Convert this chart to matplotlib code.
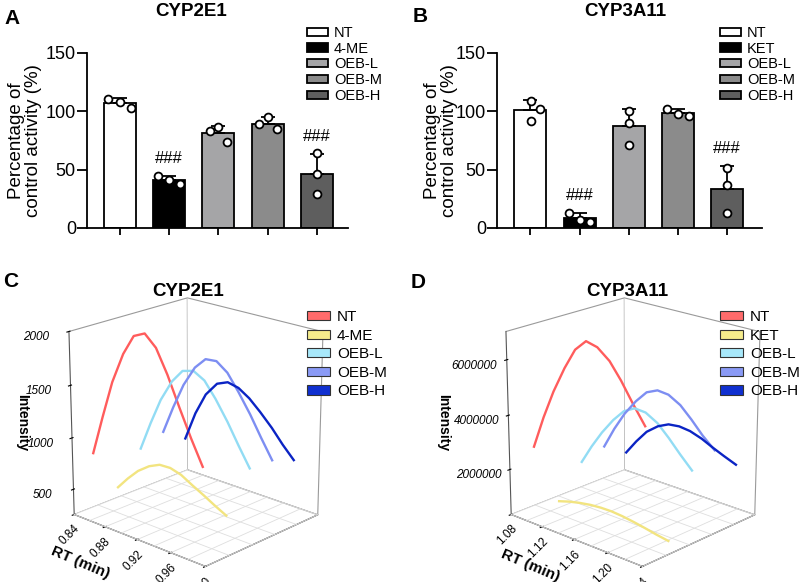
import numpy as np
import matplotlib.pyplot as plt
from matplotlib.patches import Patch

plt.rcParams['font.family'] = ['Liberation Sans', 'DejaVu Sans']

# ---- data: bar panels (percentage of control activity, 3 replicates) ----
groups_2e1 = ['NT', '4-ME', 'OEB-L', 'OEB-M', 'OEB-H']
groups_3a11 = ['NT', 'KET', 'OEB-L', 'OEB-M', 'OEB-H']

pts_2e1 = [[110.7, 108.4, 102.7],
           [44.7, 41.0, 38.1],
           [83.2, 86.3, 74.0],
           [89.2, 94.9, 84.6],
           [64.0, 46.2, 29.5]]
pts_3a11 = [[109.2, 102.1, 92.0],
            [13.2, 7.2, 5.2],
            [100.7, 90.3, 71.1],
            [102.1, 97.8, 96.1],
            [51.0, 36.7, 13.2]]
sig_2e1 = ['', '###', '', '', '###']
sig_3a11 = ['', '###', '', '', '###']

# ---- data: 3D chromatogram panels ----
rt_2e1 = [0.851, 0.864, 0.877, 0.891, 0.904, 0.917, 0.930, 0.943, 0.957, 0.970, 0.983]
nt_2e1 = [840, 1220, 1580, 1870, 2060, 2110, 2010, 1800, 1530, 1290, 1070]
me_2e1 = [415, 540, 650, 735, 785, 790, 760, 700, 640, 580, 525]
oebl_2e1 = [715, 1000, 1260, 1470, 1600, 1630, 1570, 1430, 1250, 1060, 880]
oebm_2e1 = [800, 1080, 1330, 1530, 1640, 1650, 1570, 1420, 1240, 1050, 870]
oebh_2e1 = [650, 940, 1160, 1300, 1345, 1320, 1250, 1150, 1030, 900, 785]

rt_3a11 = [1.096, 1.109, 1.122, 1.136, 1.149, 1.162, 1.175, 1.189, 1.202, 1.215, 1.229]
nt_3a11 = [2.85e6, 4.05e6, 5.1e6, 6.05e6, 6.8e6, 7.2e6, 7.1e6, 6.75e6, 6.2e6, 5.55e6, 4.9e6]
ket_3a11 = [0.45e6, 0.58e6, 0.68e6, 0.76e6, 0.80e6, 0.81e6, 0.78e6, 0.72e6, 0.65e6, 0.57e6, 0.50e6]
oebl_3a11 = [1.62e6, 2.35e6, 3.0e6, 3.6e6, 4.05e6, 4.28e6, 4.25e6, 4.0e6, 3.6e6, 3.15e6, 2.7e6]
oebm_3a11 = [1.89e6, 2.7e6, 3.4e6, 4.0e6, 4.45e6, 4.64e6, 4.6e6, 4.35e6, 3.95e6, 3.5e6, 3.1e6]
oebh_3a11 = [1.33e6, 1.9e6, 2.4e6, 2.75e6, 2.95e6, 3.0e6, 2.95e6, 2.8e6, 2.6e6, 2.42e6, 2.24e6]

rt_ticks_2e1 = [0.84, 0.88, 0.92, 0.96, 1.00]
rt_ticks_3a11 = [1.08, 1.12, 1.16, 1.20, 1.24]
z_ticks_2e1 = [500, 1000, 1500, 2000]
z_ticks_3a11 = [2000000, 4000000, 6000000]

# ---- styles ----
bar_colors = ['white', 'black', '#a5a5a7', '#8b8b8b', '#5e5e5e']
jit_2e1 = [[-0.24, -0.01, 0.22], [-0.22, 0.0, 0.22], [-0.17, 0.0, 0.17], [-0.17, 0.0, 0.18], [0, 0, 0]]
jit_3a11 = [[0.02, 0.19, 0.01], [-0.21, 0.0, 0.21], [0, 0, 0], [-0.22, 0.0, 0.22], [0, 0, 0]]
line_colors = ['#ff5c5c', '#f2e480', '#92dcf4', '#7d8ef2', '#0b24c4']
patch_colors = ['#ff6b6b', '#f5ec8c', '#a8e8fa', '#8a9af5', '#1030d0']

W, H = 803, 582
fig = plt.figure(figsize=(W / 100, H / 100), dpi=100)


def px(x0, y0, x1, y1):
    # pixel box measured from top-left -> figure rect
    return [x0 / W, 1 - y1 / H, (x1 - x0) / W, (y1 - y0) / H]


def bar_panel(rect, groups, pts, jit, sig, xlim, ylab_x, leg_xy):
    ax = fig.add_axes(rect)
    pts = np.array(pts)
    pos = np.arange(len(groups))
    mean = pts.mean(axis=1)
    sd = pts.std(axis=1, ddof=1)
    for i, g in enumerate(groups):
        ax.bar(pos[i], mean[i], width=0.65, color=bar_colors[i], edgecolor='black',
               linewidth=1.3, label=g, zorder=2)
    ax.errorbar(pos, mean, yerr=[np.zeros_like(sd), sd], fmt='none', ecolor='black',
                elinewidth=1.3, capsize=5, capthick=1.3, zorder=3)
    for i in range(len(groups)):
        ax.scatter(pos[i] + np.array(jit[i]), pts[i], s=32, facecolor='white',
                   edgecolor='black', linewidth=1.3, zorder=4, clip_on=False)
        if sig[i]:
            ax.text(pos[i], mean[i] + sd[i] + 15, sig[i], ha='center', va='center', fontsize=12)
    ax.set_xlim(*xlim)
    ax.set_ylim(0, 150)
    ax.set_yticks([0, 50, 100, 150])
    ax.set_xticks(pos)
    ax.set_xticklabels([])
    for s in ['top', 'right']:
        ax.spines[s].set_visible(False)
    for s in ['left', 'bottom']:
        ax.spines[s].set_linewidth(1.3)
    ax.tick_params(axis='y', labelsize=13, length=7, width=1.3, pad=1)
    ax.tick_params(axis='x', length=5, width=1.3)
    ax.set_ylabel('Percentage of\ncontrol activity (%)', fontsize=13.5, linespacing=1.0)
    ax.yaxis.set_label_coords(ylab_x, 0.5)
    ax.legend(loc='upper left', bbox_to_anchor=(leg_xy[0] / W, 1 - leg_xy[1] / H),
              bbox_transform=fig.transFigure, frameon=False, fontsize=10.5,
              handlelength=1.45, handleheight=0.5, handletextpad=0.4,
              labelspacing=0.12, borderpad=0, borderaxespad=0)
    return ax


def panel_3d(rect, rt, curves, labels, rt_ticks, zlim, zticks, leg_xy):
    ax = fig.add_axes(rect, projection='3d')
    ax.computed_zorder = False
    ax.set_xlim(rt_ticks[0], rt_ticks[-1])
    ax.set_ylim(0.5, 5.5)
    ax.set_zlim(*zlim)
    ax.grid(False)
    for a in (ax.xaxis, ax.yaxis, ax.zaxis):
        a.set_pane_color((1, 1, 1, 1))
        a.pane.set_edgecolor('#9a9a9a')
        a.pane.set_linewidth(0.8)
        a.line.set_color('#555555')
        a.line.set_linewidth(0.8)
    # light grid on the floor only
    step = (rt_ticks[1] - rt_ticks[0]) / 2
    for xv in np.arange(rt_ticks[0], rt_ticks[-1] + step / 2, step):
        ax.plot([xv, xv], [0.5, 5.5], [zlim[0], zlim[0]], color='#dedede', lw=0.6, zorder=1)
    for yv in np.arange(0.5, 5.6, 1.0):
        ax.plot([rt_ticks[0], rt_ticks[-1]], [yv, yv], [zlim[0], zlim[0]], color='#dedede', lw=0.6, zorder=1)
    for k, z in enumerate(curves):
        ax.plot(rt, np.full(len(rt), k + 1.0), z, color=line_colors[k], lw=1.7, zorder=3)
    ax.set_xticks(rt_ticks, labels=['%.2f' % v for v in rt_ticks], fontsize=8.5, rotation=45)
    ax.set_yticks([])
    ax.set_zticks(zticks, labels=['%d' % v for v in zticks], fontsize=8.5, fontstyle='italic')
    ax.zaxis.set_ticks_position('lower')
    ax.tick_params(axis='x', pad=-4)
    ax.tick_params(axis='z', pad=6)
    ax.set_proj_type('persp', focal_length=1.0)
    ax.view_init(elev=20, azim=-47)
    ax.set_box_aspect((178, 165, 190), zoom=1.05)
    handles = [Patch(facecolor=patch_colors[k], edgecolor='#333333', linewidth=0.8, label=labels[k])
               for k in range(len(labels))]
    fig.legend(handles=handles, loc='upper left', bbox_to_anchor=(leg_xy[0] / W, 1 - leg_xy[1] / H),
               frameon=False, fontsize=11, handlelength=1.5, handleheight=0.55,
               handletextpad=0.45, labelspacing=0.3, borderpad=0, borderaxespad=0)
    return ax


# A / B
bar_panel(px(87, 53, 348, 228), groups_2e1, pts_2e1, jit_2e1, sig_2e1, (-0.67, 4.63), -0.172, (307, 26))
bar_panel(px(497, 53, 762, 228), groups_3a11, pts_3a11, jit_3a11, sig_3a11, (-0.68, 4.71), -0.147, (720, 26))

# C / D
panel_3d(px(27, 283, 357, 575), rt_2e1, [nt_2e1, me_2e1, oebl_2e1, oebm_2e1, oebh_2e1], groups_2e1,
         rt_ticks_2e1, (250, 2000), z_ticks_2e1, (307, 310))
panel_3d(px(464, 283, 794, 575), rt_3a11, [nt_3a11, ket_3a11, oebl_3a11, oebm_3a11, oebh_3a11], groups_3a11,
         rt_ticks_3a11, (300000, 7000000), z_ticks_3a11, (720, 310))

# titles, panel letters, axis labels
for x, y, s in [(191, 11, 'CYP2E1'), (625, 11, 'CYP3A11'), (188, 291, 'CYP2E1'), (627, 292, 'CYP3A11')]:
    fig.text(x / W, 1 - y / H, s, ha='center', va='center', fontsize=13.5, fontweight='bold')
for x, y, s in [(12, 18, 'A'), (420, 17, 'B'), (11, 281, 'C'), (418, 282, 'D')]:
    fig.text(x / W, 1 - y / H, s, ha='center', va='center', fontsize=15, fontweight='bold')
for x in (22, 443):
    fig.text(x / W, 1 - 423 / H, 'Intensity', ha='center', va='center', rotation=-90,
             fontsize=10, fontweight='bold')
for x, y in [(80, 563), (530, 566)]:
    fig.text(x / W, 1 - y / H, 'RT (min)', ha='center', va='center', rotation=-23,
             fontsize=11, fontweight='bold')

fig.savefig('out.png', dpi=100)
